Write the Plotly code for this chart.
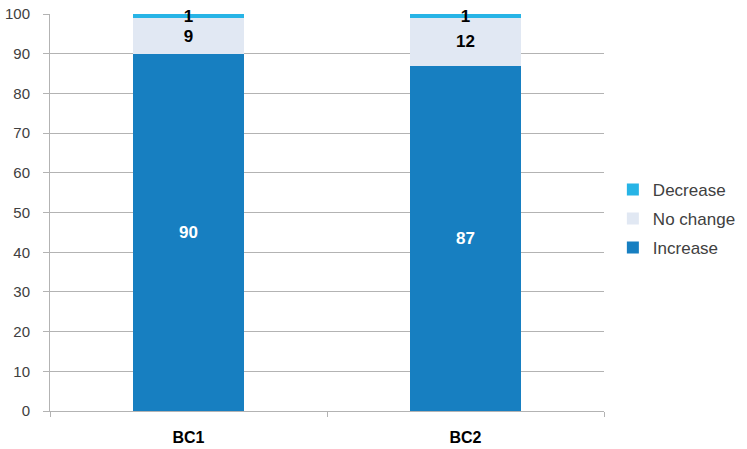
import plotly.graph_objects as go

categories = ["BC1", "BC2"]
increase = [90, 87]
no_change = [9, 12]
decrease = [1, 1]

fig = go.Figure()

fig.add_trace(go.Bar(x=categories, y=increase, name="Increase", marker_color="#177fc1",
                     text=increase, textfont=dict(color="white"),
                     legendgroup="inc", legendrank=3))
fig.add_trace(go.Bar(x=categories, y=no_change, name="No change", marker_color="#e1e8f3",
                     text=no_change, textfont=dict(color="black"),
                     legendgroup="noc", legendrank=2))
fig.add_trace(go.Bar(x=categories, y=decrease, name="Decrease", marker_color="#27b4e6",
                     text=decrease, textfont=dict(color="black"),
                     legendgroup="dec", legendrank=1))

# same label style on every segment, bold and never shrunk
fig.update_traces(texttemplate="<b>%{text}</b>", textposition="inside",
                  insidetextanchor="middle", textangle=0, constraintext="none",
                  cliponaxis=False,
                  textfont_size=17, textfont_family="Liberation Sans", marker_line_width=0)

fig.update_layout(
    barmode="stack",
    bargap=0.6,
    width=747, height=449,
    margin=dict(l=50, r=143, t=14, b=38, autoexpand=False),
    plot_bgcolor="white", paper_bgcolor="white",
    font=dict(family="Liberation Sans", size=15, color="#404040"),
    legend=dict(traceorder="grouped", x=1.016, y=0.484, yanchor="middle",
                tracegroupgap=4, font=dict(size=17, color="#404040")),
)

# tiny headroom so the gridline at 100 is still drawn
fig.update_yaxes(range=[0, 100.05], tickvals=list(range(0, 101, 10)), showgrid=True,
                 gridcolor="#b3b3b3", gridwidth=1,
                 showline=True, linecolor="#b3b3b3", ticks="outside", ticklen=6,
                 tickcolor="#b3b3b3", zeroline=False, automargin=False, ticklabelstandoff=10,
                 ticklabeloverflow="allow",
                 tickfont=dict(size=15, color="#404040"))
fig.update_xaxes(showline=True, linecolor="#b3b3b3", ticks="outside", tickson="boundaries",
                 ticklen=5, tickcolor="#b3b3b3", automargin=False, ticklabelstandoff=12,
                 tickfont=dict(size=16, color="black"),
                 tickvals=categories, ticktext=["<b>" + c + "</b>" for c in categories])

# drop the browser's default 8px body margin so the figure sits at the page corner
fig.write_html("out.html", config={"displayModeBar": False},
               post_script="document.body.style.margin='0px';")
